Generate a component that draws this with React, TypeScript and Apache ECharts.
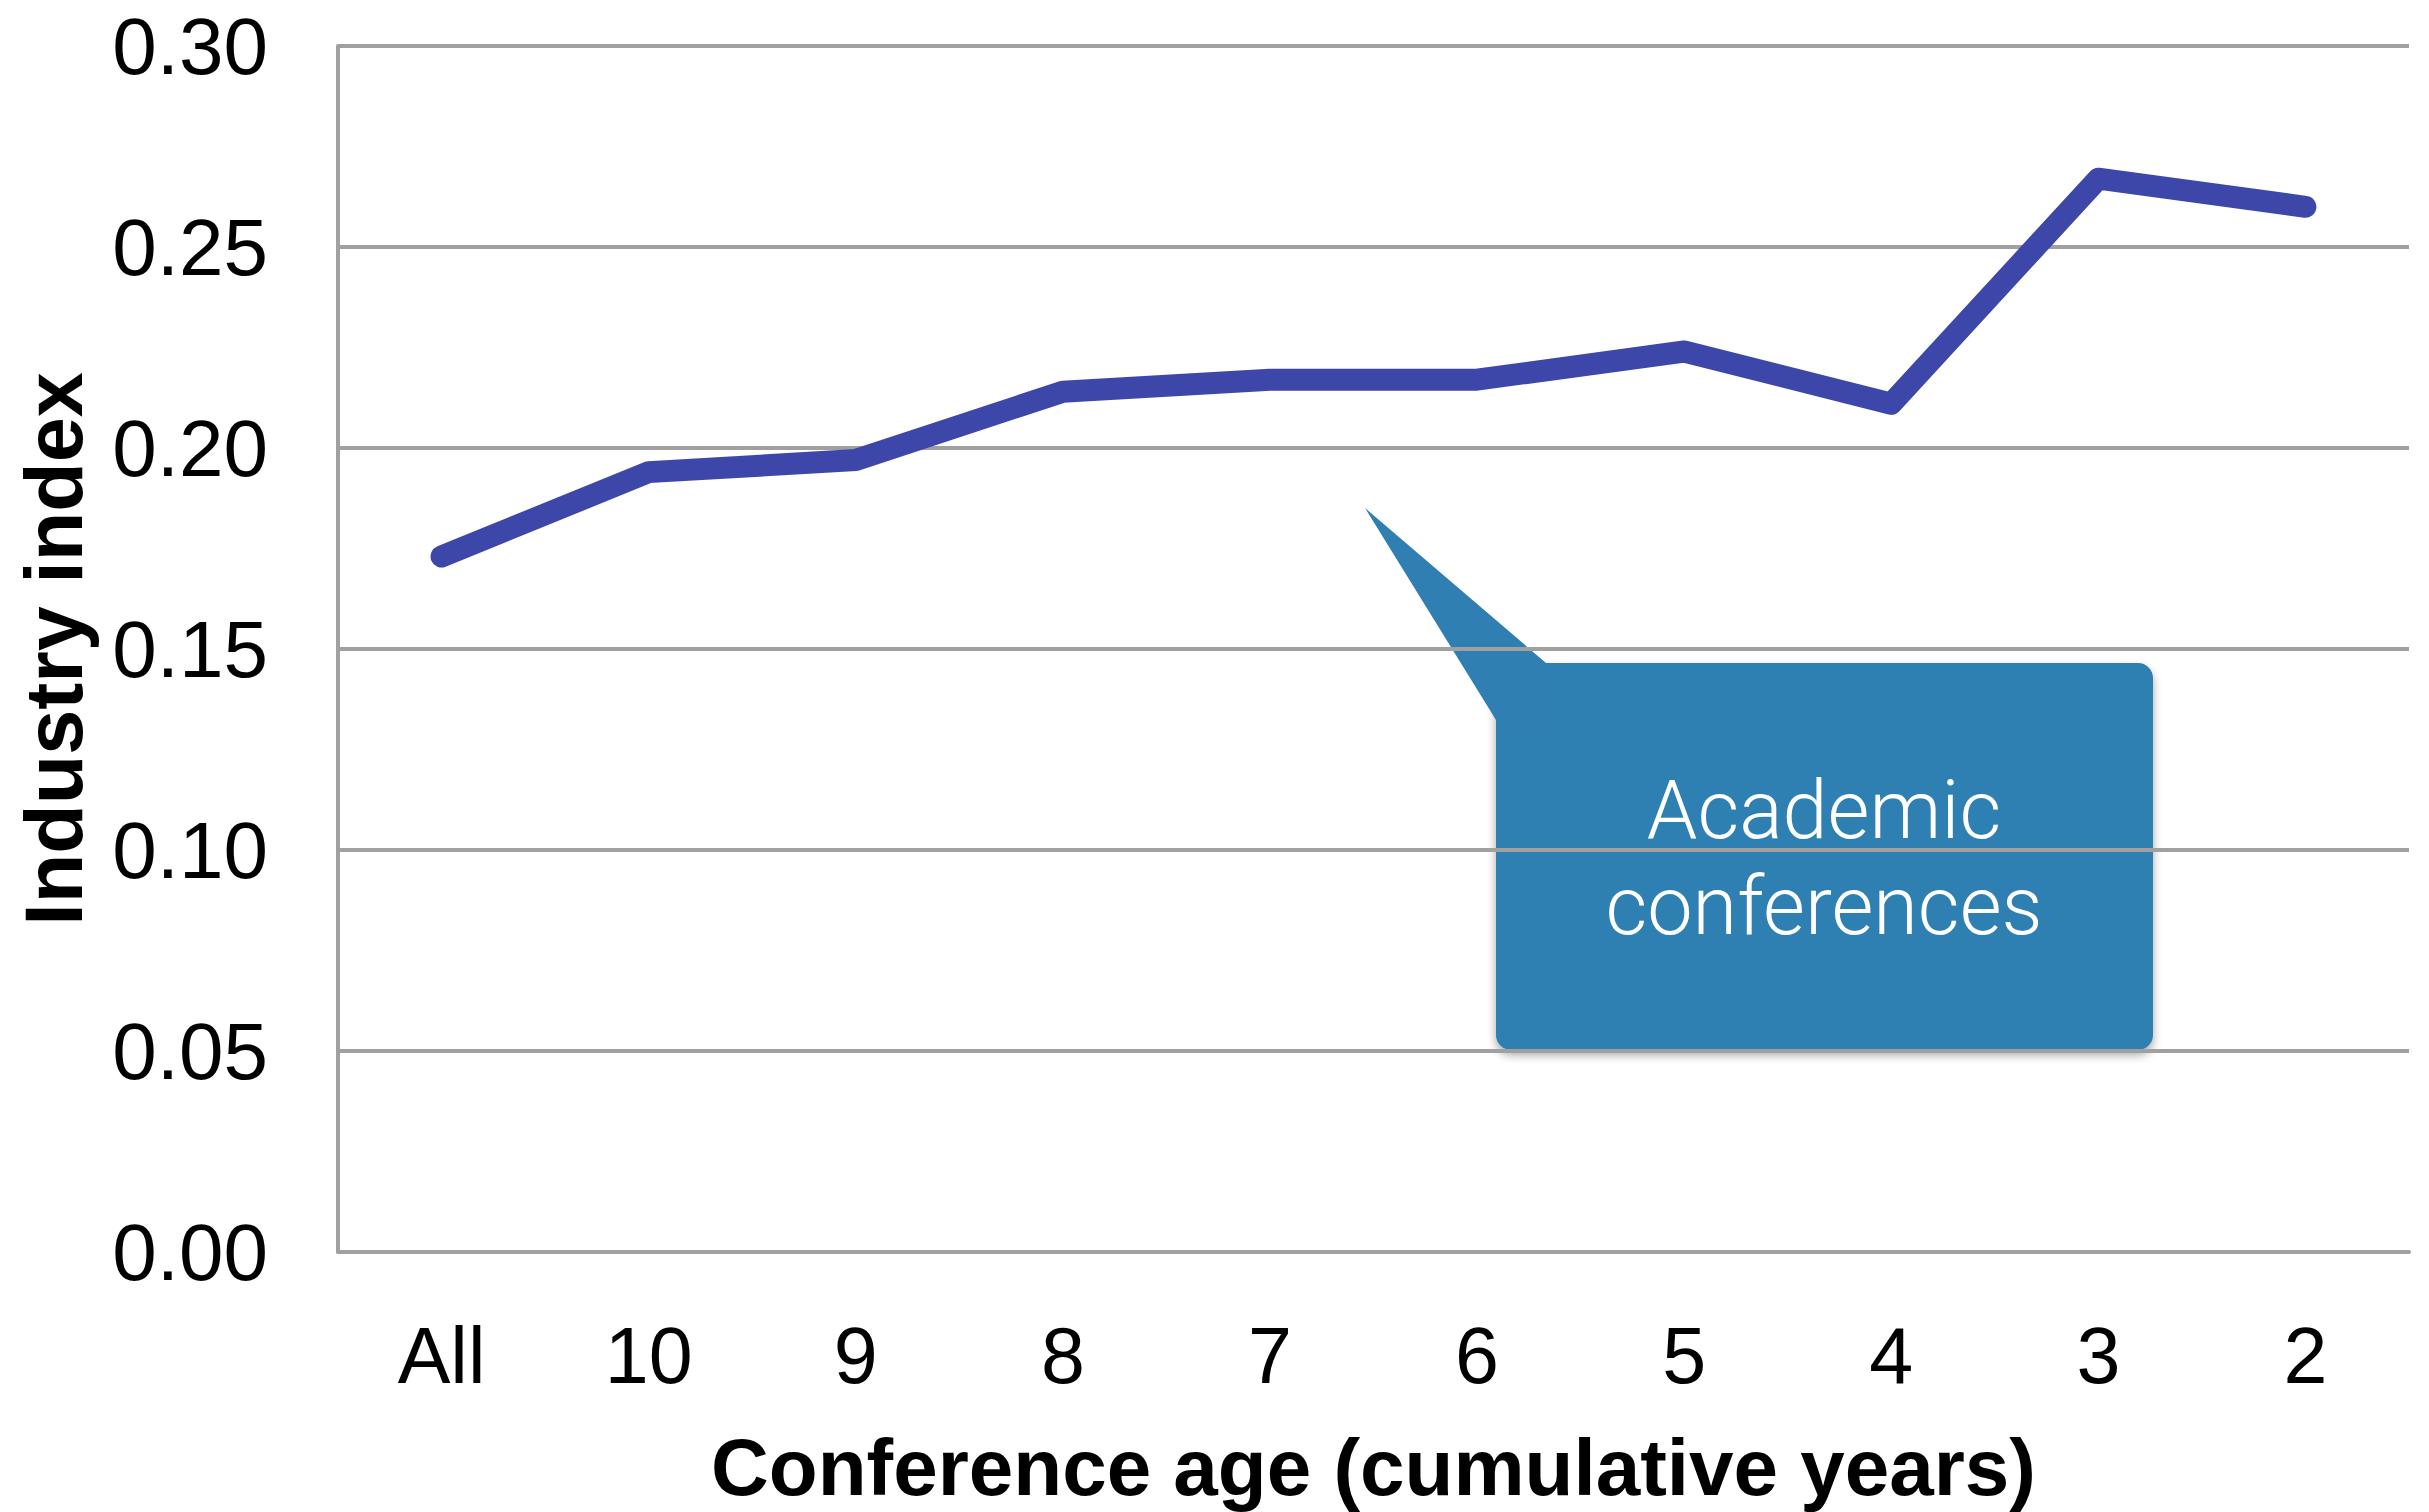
import React, { useEffect, useRef } from "react";
import * as echarts from "echarts";

const categories = ["All", "10", "9", "8", "7", "6", "5", "4", "3", "2"];
const industryIndex = [0.173, 0.194, 0.197, 0.214, 0.217, 0.217, 0.224, 0.211, 0.267, 0.26];
const yTicks = { min: 0, max: 0.3, interval: 0.05 };
const calloutLines = ["Academic", "conferences"];

export default function App() {
  const ref = useRef<HTMLDivElement>(null);
  useEffect(() => {
    if (!ref.current) return;
    const chart = echarts.init(ref.current, null, { renderer: "svg" });
    const grey = "#a0a0a0";
    const calloutColor = "#2f7fb2";
    const font = "Liberation Sans, Arial, sans-serif";
    chart.setOption({
      animation: false,
      backgroundColor: "#ffffff",
      grid: { left: 338, right: 20, top: 46, bottom: 259, containLabel: false },
      xAxis: {
        type: "category",
        data: categories,
        boundaryGap: true,
        axisLine: { show: true, lineStyle: { color: grey, width: 4 } },
        axisTick: { show: false },
        axisLabel: {
          color: "#000",
          fontSize: 79,
          fontFamily: font,
          margin: 64,
        },
        name: "Conference age (cumulative years)",
        nameLocation: "middle",
        nameGap: 175,
        nameTextStyle: {
          color: "#000",
          fontSize: 80,
          fontWeight: "bold",
          fontFamily: font,
        },
      },
      yAxis: {
        type: "value",
        min: yTicks.min,
        max: yTicks.max,
        interval: yTicks.interval,
        axisLine: { show: true, lineStyle: { color: grey, width: 4 } },
        axisTick: { show: false },
        splitLine: { show: true, lineStyle: { color: grey, width: 4 } },
        axisLabel: {
          color: "#000",
          fontSize: 80,
          lineHeight: 70,
          fontFamily: font,
          margin: 70,
          formatter: (v: number) => v.toFixed(2),
        },
        name: "Industry index",
        nameLocation: "middle",
        nameGap: 244,
        nameRotate: 90,
        nameTextStyle: {
          color: "#000",
          fontSize: 81,
          fontWeight: "bold",
          fontFamily: font,
        },
      },
      series: [
        {
          type: "line",
          data: industryIndex,
          symbol: "none",
          lineStyle: { color: "#3d46a9", width: 22, cap: "round", join: "round" },
          z: 3,
        },
      ],
      graphic: [
        {
          type: "group",
          z: 10,
          children: [
            {
              type: "rect",
              shape: { x: 1496, y: 663, width: 657, height: 387, r: [0, 15, 15, 15] },
              style: {
                fill: calloutColor,
                shadowBlur: 10,
                shadowOffsetY: 5,
                shadowColor: "rgba(0,0,0,0.35)",
              },
            },
            {
              type: "polygon",
              shape: {
                points: [
                  [1365, 508],
                  [1546, 663],
                  [1560, 663],
                  [1560, 740],
                  [1496, 740],
                  [1496, 720],
                ],
              },
              style: { fill: calloutColor },
            },
            {
              type: "text",
              x: 1824,
              y: 858,
              style: {
                text: calloutLines.join("\n"),
                fill: "#ffffff",
                fontSize: 81,
                fontWeight: 300,
                fontFamily: "Roboto, Lato, sans-serif",
                align: "center",
                verticalAlign: "middle",
                lineHeight: 96,
              },
            },
          ],
        },
      ],
    });
    return () => chart.dispose();
  }, []);
  return (
    <div
      ref={ref}
      style={{ position: "fixed", left: 0, top: 0, width: "2429px", height: "1512px" }}
    />
  );
}
